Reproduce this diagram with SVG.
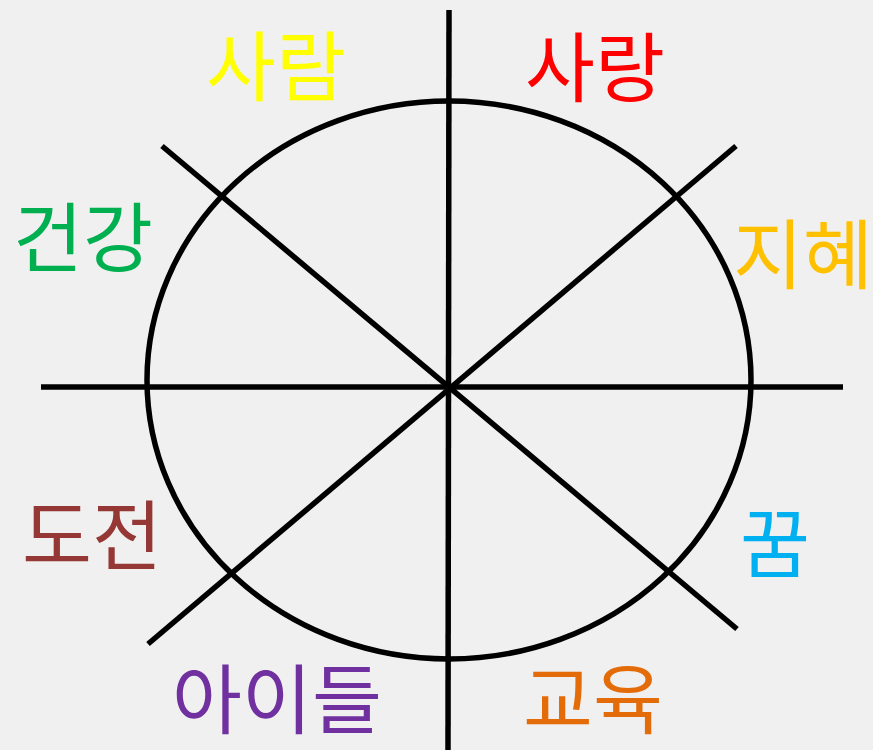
<svg xmlns="http://www.w3.org/2000/svg" width="873" height="750" viewBox="0 0 873 750">
<style>
.ln{stroke:#000;stroke-width:5.5;fill:none}
.t{font-family:"Noto Sans CJK KR","Noto Sans",sans-serif;font-size:76px;text-anchor:middle}
</style>
<rect width="873" height="750" fill="#f0f0f0"/>
<g id="connectors">
<ellipse class="ln" cx="449" cy="380" rx="302" ry="279"/>
<line class="ln" x1="449" y1="10" x2="448" y2="750"/>
<line class="ln" x1="41" y1="387" x2="843" y2="387"/>
<line class="ln" x1="162" y1="146" x2="737" y2="629"/>
<line class="ln" x1="736" y1="146" x2="148" y2="644"/>
</g>
<g id="saram"><text class="t" x="276" y="95" fill="#ffff00">사람</text></g>
<g id="sarang"><text class="t" x="595" y="96" fill="#ff0000">사랑</text></g>
<g id="geongang"><text class="t" x="83" y="266" fill="#00b050">건강</text></g>
<g id="jihye"><text class="t" x="803" y="283" fill="#ffc000">지혜</text></g>
<g id="dojeon"><text class="t" x="92" y="564" fill="#953735">도전</text></g>
<g id="kkum"><text class="t" x="775" y="572" fill="#00b0f0">꿈</text></g>
<g id="aideul"><text class="t" x="277" y="728" fill="#7030a0">아이들</text></g>
<g id="gyoyuk"><text class="t" x="593" y="728" fill="#e36c09">교육</text></g>
</svg>
